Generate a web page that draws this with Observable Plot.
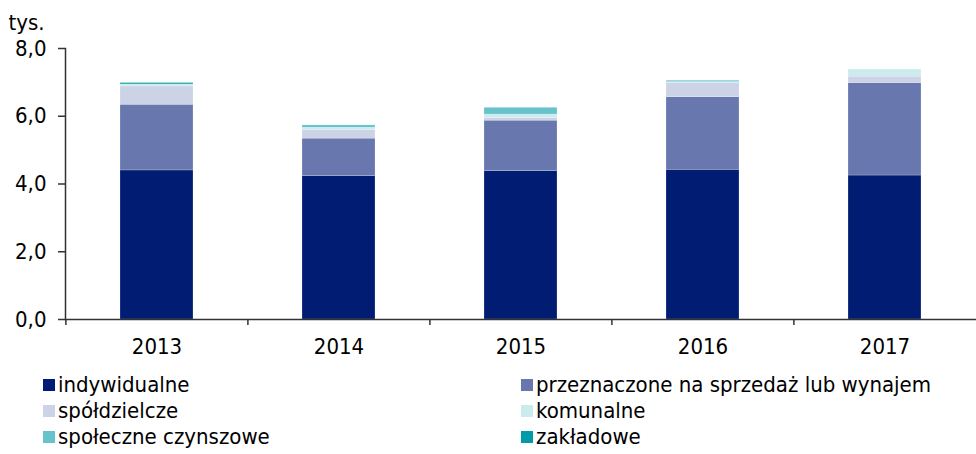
<!DOCTYPE html>
<html><head><meta charset="utf-8">
<script src="https://cdn.jsdelivr.net/npm/d3@7"></script>
<script src="https://cdn.jsdelivr.net/npm/@observablehq/plot@0.6"></script>
<style>
body{margin:0;background:#fff;font-family:"DejaVu Sans Condensed","DejaVu Sans",sans-serif;}
#legend{display:grid;grid-template-columns:478px 455px;margin-left:43px;margin-top:6px;font-size:22px;line-height:26px;color:#000;white-space:nowrap;font-stretch:condensed;}
.item{display:flex;align-items:center;height:26px;white-space:nowrap;}
.sw{width:12px;height:12px;margin-right:3px;flex:none;}
</style></head>
<body><div id="chart"></div><div id="legend"></div>
<script>
const years = ["2013", "2014", "2015", "2016", "2017"];
const seriesNames = ["indywidualne", "przeznaczone na sprzedaż lub wynajem", "spółdzielcze", "komunalne", "społeczne czynszowe", "zakładowe"];
const colors = ["#001c73", "#6878ae", "#cdd3e6", "#cbebee", "#66c3cc", "#009ba6"];
const indywidualne = [4.40, 4.23, 4.38, 4.42, 4.25];
const przeznaczone = [1.94, 1.11, 1.49, 2.14, 2.73];
const spoldzielcze = [0.54, 0.25, 0.08, 0.43, 0.19];
const komunalne = [0.05, 0.07, 0.10, 0.01, 0.21];
const spoleczne = [0.01, 0.07, 0.20, 0.02, 0.00];
const zakladowe = [0.04, 0.00, 0.00, 0.02, 0.00];
const yTicks = [0, 2, 4, 6, 8];

const seriesValues = [indywidualne, przeznaczone, spoldzielcze, komunalne, spoleczne, zakladowe];
const data = [];
seriesNames.forEach((s, i) => years.forEach((y, j) => data.push({year: y, series: s, value: seriesValues[i][j]})));

const W = 976, ML = 65, MR = 0;
const step = (W - ML - MR) / (years.length - 0.6 + 0.6);

const chart = Plot.plot({
  width: W, height: 366,
  marginTop: 48, marginBottom: 47, marginLeft: ML, marginRight: MR,
  style: {fontFamily: "'DejaVu Sans Condensed', 'DejaVu Sans', sans-serif", fontStretch: "condensed", fontSize: "22px", color: "#000", background: "#fff"},
  x: {domain: years, paddingInner: 0.6, paddingOuter: 0.3, label: null},
  y: {domain: [0, 8], label: null},
  color: {domain: seriesNames, range: colors},
  marks: [
    Plot.barY(data, {x: "year", y: "value", fill: "series", order: seriesNames, stroke: "#fff", strokeWidth: 0.4, strokeOpacity: 0.5}),
    Plot.axisY(yTicks, {tickSize: 7, tickPadding: 12, stroke: "#333", strokeWidth: 1.5, tickFormat: d => d.toFixed(1).replace(".", ","), fontSize: 22}),
    Plot.frame({anchor: "left", stroke: "#333", strokeWidth: 1.5}),
    Plot.axisX({tickSize: 6, dx: -step / 2, text: null, stroke: "#333", strokeWidth: 1.5}),
    Plot.axisX({tickSize: 0, tickPadding: 19, fontSize: 22}),
    Plot.ruleY([0], {stroke: "#333", strokeWidth: 1.5}),
    Plot.text(["tys."], {frameAnchor: "top-left", dx: -57, dy: -34, fontSize: 22, textAnchor: "start"})
  ]
});
document.getElementById("chart").appendChild(chart);

const legend = document.getElementById("legend");
seriesNames.forEach((s, i) => {
  const it = document.createElement("div");
  it.className = "item";
  it.innerHTML = `<span class="sw" style="background:${colors[i]}"></span><span>${s}</span>`;
  legend.appendChild(it);
});
</script></body></html>
